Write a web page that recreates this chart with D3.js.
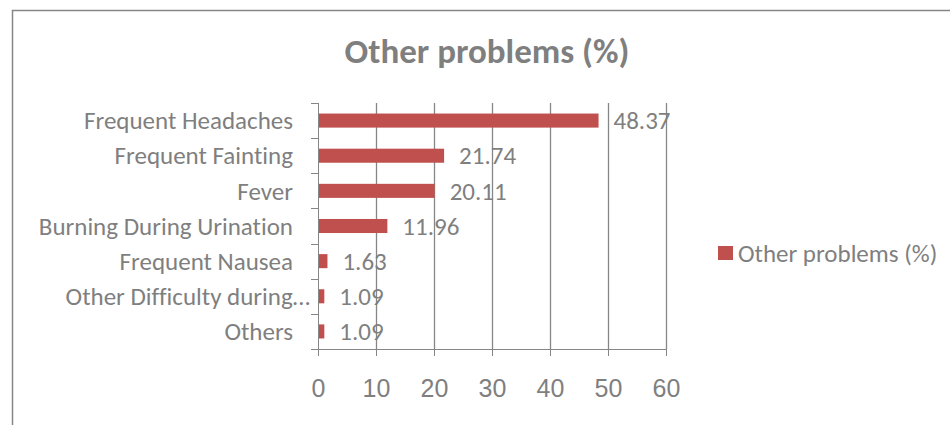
<html lang="en">
<head>
    <meta charset="utf-8">
    <title>Other problems (%)</title>
    <script src="https://d3js.org/d3.v7.min.js"></script>
    <style>
        body {
            margin: 0;
            background: white;
        }

        svg {
            font-family: Carlito, Calibri, Lato, sans-serif;
            font-variant-ligatures: none;
        }

        .axis path,
        .axis line {
            fill: none;
            stroke: #868686;
            stroke-width: 1.3px;
            shape-rendering: crispEdges;
        }

        .axis text {
            fill: #7f7f7f;
            font-size: 25px;
        }
    </style>
</head>
<body>
    <div id="chart"></div>
    <script type="text/javascript">
        // data
        var categories = ["Frequent Headaches", "Frequent Fainting", "Fever", "Burning During Urination",
            "Frequent Nausea", "Other Difficulty during\u2026", "Others"];
        var values = [48.37, 21.74, 20.11, 11.96, 1.63, 1.09, 1.09];
        var xTicks = [0, 10, 20, 30, 40, 50, 60];
        var seriesName = "Other problems (%)";
        var chartTitle = "Other problems (%)";

        var width = 950;
        var height = 425;
        var barColor = "#C0504D";
        var textColor = "#7f7f7f";

        var plotLeft = 318;
        var plotRight = 666;
        var plotTop = 103;
        var plotBottom = 349;

        var svg = d3.select("#chart").append("svg")
            .attr("width", width)
            .attr("height", height);

        // outer chart border (runs off the right and bottom)
        svg.append("rect")
            .attr("x", 12.5)
            .attr("y", 10.5)
            .attr("width", width + 20)
            .attr("height", height + 20)
            .style("fill", "white")
            .style("stroke", "#868686")
            .style("stroke-width", 1.5);

        var xScale = d3.scaleLinear()
            .domain([0, 60])
            .range([plotLeft, plotRight]);

        var yScale = d3.scaleBand()
            .domain(categories)
            .range([plotTop, plotBottom])
            .paddingInner(0.6)
            .paddingOuter(0.3);

        var yBand = d3.scaleBand()
            .domain(categories)
            .range([plotTop, plotBottom]);

        // gridlines
        svg.append("g")
            .selectAll("line")
            .data(xTicks.slice(1))
            .enter()
            .append("line")
            .attr("x1", function(d) { return Math.round(xScale(d)) + 0.5; })
            .attr("x2", function(d) { return Math.round(xScale(d)) + 0.5; })
            .attr("y1", plotTop)
            .attr("y2", plotBottom)
            .style("stroke", "#868686")
            .style("stroke-width", 1.3);

        // bars
        svg.append("g")
            .selectAll("rect")
            .data(values)
            .enter()
            .append("rect")
            .attr("x", xScale(0))
            .attr("y", function(d, i) { return yScale(categories[i]); })
            .attr("width", function(d) { return xScale(d) - xScale(0); })
            .attr("height", yScale.bandwidth())
            .style("fill", barColor);

        // x axis
        var xAxis = d3.axisBottom(xScale)
            .tickValues(xTicks)
            .tickSize(7)
            .tickPadding(23)
            .tickFormat(d3.format("d"));

        svg.append("g")
            .attr("class", "axis")
            .attr("transform", "translate(0," + plotBottom + ")")
            .call(xAxis)
            .call(function(g) { g.select(".domain").remove(); })
            .call(function(g) {
                g.append("line")
                    .attr("x1", plotLeft - 7)
                    .attr("x2", plotRight)
                    .attr("y1", 0.5)
                    .attr("y2", 0.5);
            });

        // y axis line with ticks at band boundaries
        var yAxisG = svg.append("g").attr("class", "axis");
        yAxisG.append("line")
            .attr("x1", plotLeft + 0.5)
            .attr("x2", plotLeft + 0.5)
            .attr("y1", plotTop)
            .attr("y2", plotBottom);
        yAxisG.selectAll(".btick")
            .data(categories)
            .enter()
            .append("line")
            .attr("class", "btick")
            .attr("x1", plotLeft - 7)
            .attr("x2", plotLeft)
            .attr("y1", function(d) { return Math.round(yBand(d)) + 0.5; })
            .attr("y2", function(d) { return Math.round(yBand(d)) + 0.5; });

        // category labels
        svg.append("g")
            .selectAll("text")
            .data(categories)
            .enter()
            .append("text")
            .text(function(d) { return d; })
            .attr("x", function(d) { return d.slice(-1) === "\u2026" ? plotLeft - 8 : plotLeft - 25; })
            .attr("y", function(d) { return yBand(d) + yBand.bandwidth() / 2; })
            .attr("dy", "0.35em")
            .attr("text-anchor", "end")
            .attr("font-size", "25px")
            .attr("fill", textColor);

        // value labels
        svg.append("g")
            .selectAll("text")
            .data(values)
            .enter()
            .append("text")
            .text(function(d) { return d.toFixed(2); })
            .attr("x", function(d) { return xScale(d) + 15; })
            .attr("y", function(d, i) { return yBand(categories[i]) + yBand.bandwidth() / 2; })
            .attr("dy", "0.35em")
            .attr("font-size", "25px")
            .attr("fill", textColor);

        // title
        svg.append("text")
            .text(chartTitle)
            .attr("x", 487)
            .attr("y", 63)
            .attr("text-anchor", "middle")
            .attr("font-size", "35px")
            .attr("font-weight", "bold")
            .attr("fill", textColor);

        // legend
        var legend = svg.append("g")
            .attr("transform", "translate(718,246)");
        legend.append("rect")
            .attr("width", 15)
            .attr("height", 14)
            .style("fill", barColor);
        legend.append("text")
            .text(seriesName)
            .attr("x", 20)
            .attr("y", 7)
            .attr("dy", "0.35em")
            .attr("font-size", "25px")
            .attr("fill", textColor);
    </script>
</body>
</html>
